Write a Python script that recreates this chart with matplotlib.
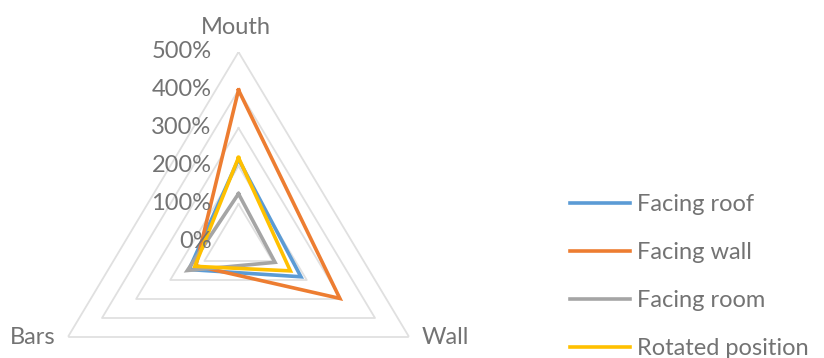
import numpy as np
import matplotlib.pyplot as plt
from matplotlib.transforms import offset_copy

plt.rcParams['font.family'] = ['Lato', 'DejaVu Sans']

categories = ['Mouth', 'Wall', 'Bars']
series_names = ['Facing roof', 'Facing wall', 'Facing room', 'Rotated position']
facing_roof = [218, 183, 145]
facing_wall = [400, 297, 125]
facing_room = [127, 107, 150]
rotated_position = [222, 152, 128]
radial_ticks = [0, 100, 200, 300, 400, 500]
radial_labels = ['0%', '100%', '200%', '300%', '400%', '500%']

colors = ['#5B9BD5', '#ED7D31', '#A5A5A5', '#FFC000']
text_color = '#737373'
grid_color = '#e0e0e0'

W, H = 824, 358
fig = plt.figure(figsize=(W / 100, H / 100), dpi=100)

# centre of the radar and outer radius in pixels
cx, cy = 238.5, H - 242
rx, ry = 197, 190
ax = fig.add_axes([(cx - rx) / W, (cy - ry) / H, 2 * rx / W, 2 * ry / H],
                  projection='polar')
ax.set_aspect('auto')
ax.set_theta_zero_location('N')
ax.set_theta_direction(-1)
ax.set_ylim(0, 500)
ax.grid(False)
ax.spines['polar'].set_visible(False)
ax.set_xticks([])
ax.set_yticks([])
ax.patch.set_alpha(0)

n = len(categories)
angles = np.linspace(0, 2 * np.pi, n, endpoint=False)
closed = np.append(angles, angles[0])

# triangular gridlines
for r in radial_ticks[1:]:
    ax.plot(closed, [r] * (n + 1), color=grid_color, lw=1.3, zorder=1)

for name, vals, c in zip(series_names,
                         [facing_roof, facing_wall, facing_room, rotated_position],
                         colors):
    ax.plot(closed, vals + vals[:1], color=c, lw=2.6, label=name, zorder=3,
            solid_joinstyle='miter')

# radial value labels along the Mouth axis
lab_tr = offset_copy(ax.transData, fig=fig, x=-27, y=0, units='dots')
for r, lab in zip(radial_ticks, radial_labels):
    ax.text(0, r, lab, transform=lab_tr, ha='right', va='center',
            fontsize=17, color=text_color, zorder=4)

# category labels
cat_pos = {'Mouth': (236, 27), 'Wall': (445, 337), 'Bars': (33, 337)}
for cat in categories:
    x, y = cat_pos[cat]
    fig.text(x / W, 1 - y / H, cat, ha='center', va='center', fontsize=17,
             color=text_color)

leg = fig.legend(loc='upper left', bbox_to_anchor=(570 / W, 1 - 194 / H),
                 frameon=False, fontsize=17, handlelength=2.55,
                 handletextpad=0.28, labelspacing=1.15, borderpad=0,
                 borderaxespad=0)
for t in leg.get_texts():
    t.set_color(text_color)

fig.savefig('out.png', dpi=100)
